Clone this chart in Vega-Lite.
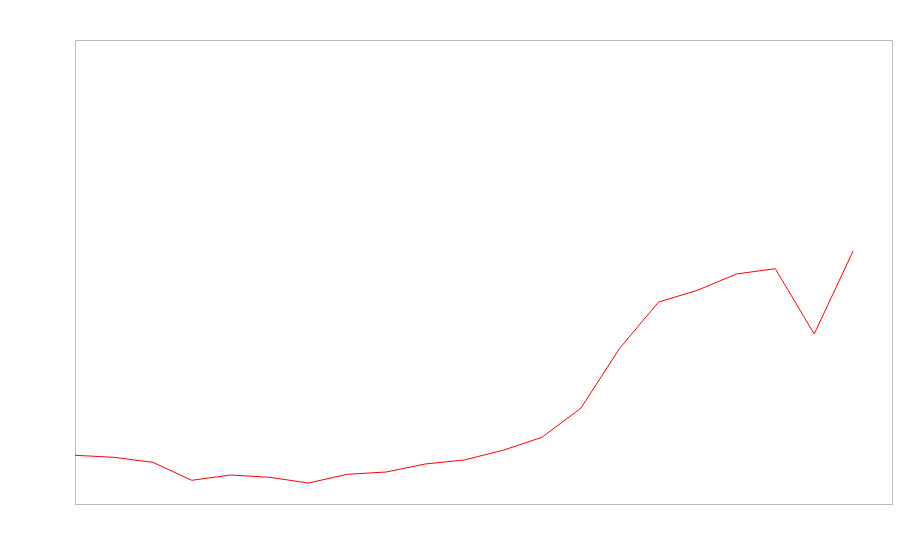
{
  "$schema": "https://vega.github.io/schema/vega-lite/v6.json",
  "width": 817,
  "height": 464,
  "autosize": {"type": "none"},
  "padding": {"left": 75, "top": 40, "right": 8, "bottom": 56},
  "background": "white",
  "config": {"view": {"stroke": "#bbbbbb", "strokeWidth": 1}},
  "data": {"values": [
    {"i": 0, "v": 48.7}, {"i": 1, "v": 46.7}, {"i": 2, "v": 41.7}, {"i": 3, "v": 23.7},
    {"i": 4, "v": 29}, {"i": 5, "v": 26.7}, {"i": 6, "v": 21}, {"i": 7, "v": 29.7},
    {"i": 8, "v": 32}, {"i": 9, "v": 40}, {"i": 10, "v": 44}, {"i": 11, "v": 53.7},
    {"i": 12, "v": 66.7}, {"i": 13, "v": 95.7}, {"i": 14, "v": 155.7}, {"i": 15, "v": 202},
    {"i": 16, "v": 213.7}, {"i": 17, "v": 230}, {"i": 18, "v": 235.3}, {"i": 19, "v": 170},
    {"i": 20, "v": 253}
  ]},
  "mark": {"type": "line", "color": "#ff0000", "strokeWidth": 1},
  "encoding": {
    "x": {"field": "i", "type": "quantitative", "scale": {"domain": [0, 21], "nice": false, "zero": false}, "axis": null},
    "y": {"field": "v", "type": "quantitative", "scale": {"domain": [0, 464], "nice": false}, "axis": null}
  }
}
